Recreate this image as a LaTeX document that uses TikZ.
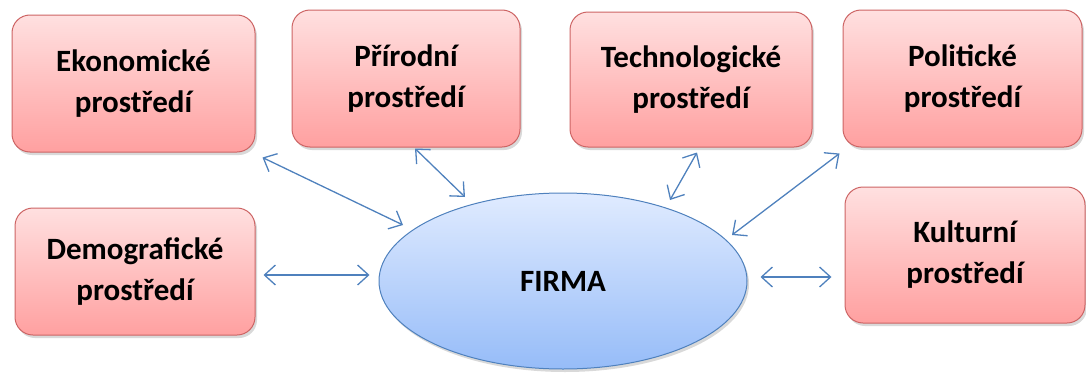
\documentclass[tikz,border=0pt]{standalone}
\usepackage{fontspec}
\setmainfont{Carlito}
\usetikzlibrary{arrows.meta,shadows,calc,shapes.geometric}
\definecolor{boxtop}{RGB}{255,224,224}
\definecolor{boxbot}{RGB}{255,160,160}
\definecolor{boxline}{RGB}{205,100,100}
\definecolor{elltop}{RGB}{224,235,255}
\definecolor{ellbot}{RGB}{150,188,248}
\definecolor{ellline}{RGB}{79,129,189}
\definecolor{arr}{RGB}{79,129,189}
\begin{document}
\begin{tikzpicture}[x=1pt,y=-1pt,
  envbox/.style={draw=boxline, line width=1pt, rounded corners=18pt,
    top color=boxtop, bottom color=boxbot, align=center, inner sep=0pt,
    font=\fontsize{31}{41}\selectfont\bfseries,
    drop shadow={shadow xshift=2pt,shadow yshift=-3pt,opacity=0.3}},
  firmastyle/.style={ellipse, draw=ellline, line width=1pt, top color=elltop,
    bottom color=ellbot, inner sep=0pt, font=\fontsize{31}{41}\selectfont\bfseries,
    drop shadow={shadow xshift=2pt,shadow yshift=-3pt,opacity=0.3}},
  conn/.style={draw=arr, line width=1.3pt,
    {Straight Barb[length=11pt,width=20pt]}-{Straight Barb[length=11pt,width=20pt]}}]
\useasboundingbox (0,0) rectangle (1086,372);
\node[envbox, minimum width=243pt, minimum height=137pt] (eko) at (133.5,83.5) {Ekonomické\\prostředí};
\node[envbox, minimum width=228pt, minimum height=137pt] (pri) at (406,78.5) {Přírodní\\prostředí};
\node[envbox, minimum width=242pt, minimum height=135pt] (tech) at (691,79.5) {Technologické\\prostředí};
\node[envbox, minimum width=239pt, minimum height=137pt] (pol) at (962.5,78.5) {Politické\\prostředí};
\node[envbox, minimum width=240pt, minimum height=127pt] (demo) at (135,271.5) {Demografické\\prostředí};
\node[envbox, minimum width=240pt, minimum height=136pt] (kult) at (965,255) {Kulturní\\prostředí};
\node[firmastyle, minimum width=368pt, minimum height=176pt] (firma) at (563,281) {FIRMA};
\draw[conn] ($(eko.south east)+(7,5)$) -- ($(firma.center)+(-160,-56)$);
\draw[conn] ($(pri.south)+(9,1)$) -- ($(firma.center)+(-98,-84)$);
\draw[conn] ($(tech.south)+(6,5)$) -- ($(firma.center)+(107,-81)$);
\draw[conn] ($(pol.south west)+(-3,6)$) -- ($(firma.center)+(169,-46)$);
\draw[conn] ($(demo.east)+(8,3.5)$) -- ($(firma.west)+(-9,-6)$);
\draw[conn] ($(firma.east)+(13,-4)$) -- ($(kult.west)+(-13,22)$);
\end{tikzpicture}
\end{document}
